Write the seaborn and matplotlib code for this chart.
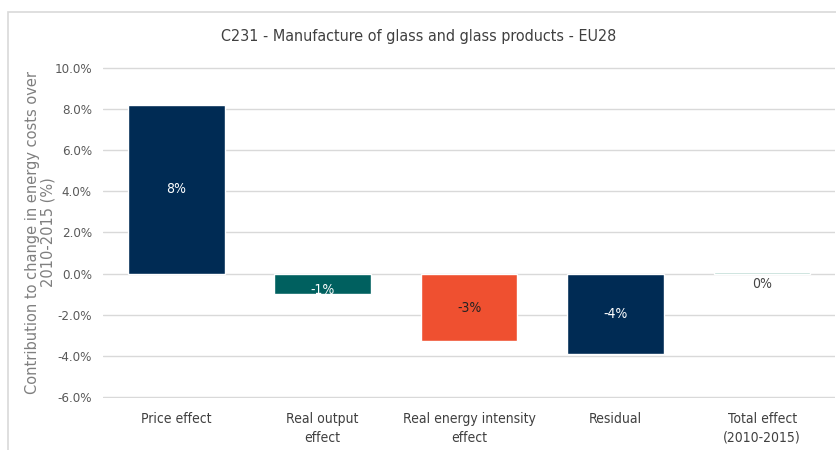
import matplotlib
matplotlib.use("Agg")
import matplotlib.pyplot as plt
import seaborn as sns
import pandas as pd
from matplotlib.patches import Rectangle

categories = ["Price effect", "Real output\neffect", "Real energy intensity\neffect",
              "Residual", "Total effect\n(2010-2015)"]
values = [8.2, -1.0, -3.3, -3.9, 0.1]
labels = ["8%", "-1%", "-3%", "-4%", "0%"]
colors = ["#002B54", "#00605F", "#EF5030", "#002B54", "#B3D5CD"]
label_colors = ["white", "white", "#222222", "white", "#444444"]
yticks = [-6, -4, -2, 0, 2, 4, 6, 8, 10]

sns.set_theme(style="white")
plt.rcParams['font.family'] = ['DejaVu Sans']
plt.rcParams['font.stretch'] = 'condensed'

fig = plt.figure(figsize=(8.37, 4.5), dpi=100)
ax = fig.add_axes([0.123, 0.1156, 0.875, 0.7355])

df = pd.DataFrame({"cat": categories, "val": values})
sns.barplot(data=df, x="cat", y="val", hue="cat", palette=colors, legend=False,
            width=0.66, ax=ax, saturation=1, zorder=3)

ax.set_ylim(-6.05, 10.05)
ax.set_yticks(yticks)
ax.set_yticklabels([f"{t:.1f}%" for t in yticks], color="#595959", fontsize=9.5)
ax.grid(axis="y", color="#D9D9D9", linewidth=1, zorder=0)
ax.set_axisbelow(True)
for s in ax.spines.values():
    s.set_visible(False)
ax.tick_params(axis="both", length=0)
ax.tick_params(axis="y", pad=8)
ax.tick_params(axis="x", pad=10, labelcolor="#404040")
for t in ax.get_xticklabels():
    t.set_fontsize(10)
    t.set_linespacing(1.45)
ax.set_xlabel("")
ax.set_ylabel("Contribution to change in energy costs over\n2010-2015 (%)",
              color="#7F7F7F", fontsize=10.5, linespacing=1.0, fontstretch='normal')
ax.yaxis.set_label_coords(-0.065, 0.5)

for i, (v, lab, lc) in enumerate(zip(values, labels, label_colors)):
    if abs(v) < 0.5:
        y = -0.5
    elif v < 0 and abs(v) < 1.5:
        y = v + 0.2
    else:
        y = v / 2
    ax.text(i, y, lab, ha="center", va="center", color=lc, fontsize=10, zorder=5)

fig.text(0.5, 0.918, "C231 - Manufacture of glass and glass products - EU28",
         ha="center", va="center", fontsize=11.5, color="#404040")

fig.patches.append(Rectangle((8/837, -0.1), 1.2, 1 - 12/450 + 0.1,
                             transform=fig.transFigure, fill=False,
                             edgecolor="#D9D9D9", linewidth=1.2))

fig.savefig("out.png", dpi=100)
